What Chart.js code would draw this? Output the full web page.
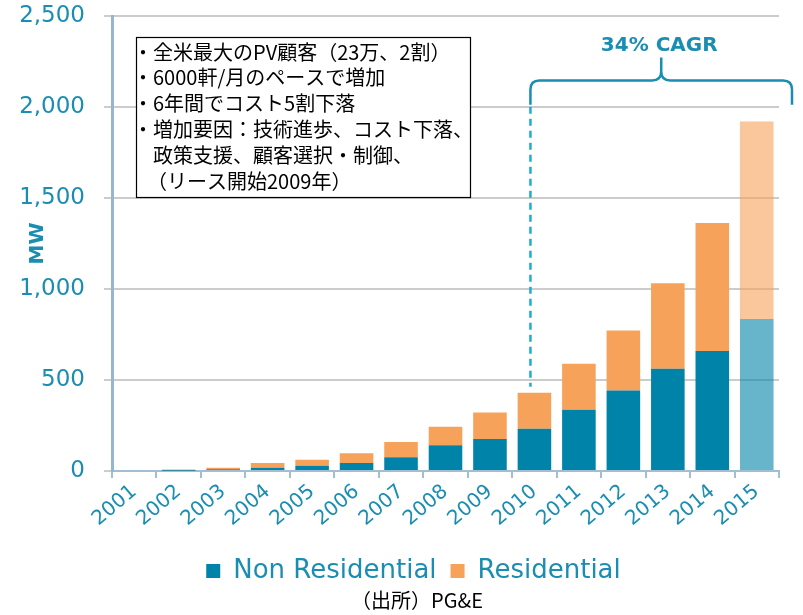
<!DOCTYPE html>
<html>
<head>
<meta charset="utf-8">
<script src="https://cdn.jsdelivr.net/npm/chart.js@4"></script>
<style>
  html, body { margin: 0; padding: 0; background: #fff; }
  #wrap { width: 803px; height: 615px; }
</style>
</head>
<body>
<div id="wrap"><canvas id="pvChart" width="803" height="615"></canvas></div>
<script>
const years = ["2001","2002","2003","2004","2005","2006","2007","2008","2009","2010","2011","2012","2013","2014","2015"];
const nonResidential = [0, 2, 9, 18, 29, 44, 75, 142, 176, 232, 337, 442, 562, 660, 835];
const residential    = [0, 6, 9, 26, 33, 54, 85, 101, 146, 198, 252, 330, 470, 702, 1085];
const yTicks = [0, 500, 1000, 1500, 2000, 2500];
const noteLines = [
  "・全米最大のPV顧客（23万、2割）",
  "・6000軒/月のペースで増加",
  "・6年間でコスト5割下落",
  "・増加要因：技術進歩、コスト下落、",
  "政策支援、顧客選択・制御、",
  "（リース開始2009年）"
];
const cagrLabel = "34% CAGR";
const sourceLabel = "（出所）PG&E";

const TEAL = "#1A8DB3";
const NONRES = "0,131,169";
const RES = "247,162,90";

// last year is a forecast -> faded bars
const fade = rgb => years.map((y, i) => i === years.length - 1 ? `rgba(${rgb},0.6)` : `rgb(${rgb})`);

const notes = {
  id: "notes",
  beforeDraw(chart) {
    // nudge legend to sit a bit right of canvas centre like the original
    if (!chart.$legendShifted) {
      chart.legend.left += 24;
      chart.legend.right += 24;
      chart.$legendShifted = true;
    }
  },
  afterLayout(chart) { chart.$legendShifted = false; },
  afterDraw(chart) {
    const { ctx, chartArea: ca, scales: { x, y } } = chart;
    ctx.save();

    // text box
    const bx = ca.left + 24, by = 37, bw = 334, bh = 160;
    ctx.fillStyle = "#fff";
    ctx.fillRect(bx, by, bw, bh);
    ctx.strokeStyle = "#000";
    ctx.lineWidth = 1.2;
    ctx.strokeRect(bx + 0.5, by + 0.5, bw, bh);
    ctx.fillStyle = "#000";
    ctx.font = '20px "Noto Sans CJK JP"';
    ctx.textBaseline = "middle";
    ctx.textAlign = "left";
    noteLines.forEach((t, i) => {
      const indent = t.startsWith("・") ? -3 : t.startsWith("（") ? 11 : 17;
      ctx.fillText(t, bx + indent, by + 15 + i * 25.8);
    });

    // CAGR bracket
    const x0 = x.getPixelForValue(9) - 4;
    const x1 = ca.right + 13;
    const xm = (x0 + x1) / 2;
    const yEnd = y.getPixelForValue(2013);
    const yBar = y.getPixelForValue(2145);
    const yPeak = y.getPixelForValue(2272);
    const r = 9;
    ctx.strokeStyle = TEAL;
    ctx.lineWidth = 2.5;
    ctx.beginPath();
    ctx.moveTo(x0, yEnd);
    ctx.lineTo(x0, yBar + r);
    ctx.quadraticCurveTo(x0, yBar, x0 + r, yBar);
    ctx.lineTo(xm - r, yBar);
    ctx.quadraticCurveTo(xm, yBar, xm, yBar - r);
    ctx.lineTo(xm, yPeak);
    ctx.moveTo(xm, yBar - r);
    ctx.quadraticCurveTo(xm, yBar, xm + r, yBar);
    ctx.lineTo(x1 - r, yBar);
    ctx.quadraticCurveTo(x1, yBar, x1, yBar + r);
    ctx.lineTo(x1, yEnd);
    ctx.stroke();

    ctx.fillStyle = TEAL;
    ctx.font = 'bold 20px "DejaVu Sans"';
    ctx.textAlign = "center";
    ctx.fillText(cagrLabel, xm - 2, y.getPixelForValue(2338));

    // dashed guide down to 2010
    ctx.strokeStyle = "#1AAFD0";
    ctx.setLineDash([7, 5]);
    ctx.beginPath();
    ctx.moveTo(x0, yEnd + 2);
    ctx.lineTo(x0, y.getPixelForValue(nonResidential[9] + residential[9]) - 6);
    ctx.stroke();
    ctx.setLineDash([]);

    // source
    ctx.fillStyle = "#000";
    ctx.font = '20px "Noto Sans CJK JP"';
    ctx.fillText(sourceLabel, 417, 600);
    ctx.restore();
  }
};

new Chart(document.getElementById("pvChart").getContext("2d"), {
  type: "bar",
  data: {
    labels: years,
    datasets: [
      { label: "Non Residential", data: nonResidential, backgroundColor: fade(NONRES) },
      { label: "Residential", data: residential, backgroundColor: fade(RES) }
    ]
  },
  options: {
    responsive: false,
    animation: false,
    layout: { padding: { top: 16, right: 24, bottom: 21, left: 0 } },
    datasets: { bar: { categoryPercentage: 1, barPercentage: 0.755 } },
    plugins: {
      tooltip: { enabled: false },
      legend: {
        position: "bottom",
        labels: {
          color: TEAL,
          font: { family: "DejaVu Sans", size: 26 },
          boxWidth: 14, boxHeight: 14, padding: 14
        }
      }
    },
    scales: {
      x: {
        stacked: true,
        afterFit: s => { s.height = 73; },
        grid: { drawOnChartArea: false, tickLength: 7, color: "#A3BED3", lineWidth: 2 },
        border: { color: "#A3BED3", width: 2 },
        ticks: {
          color: TEAL, font: { family: "DejaVu Sans", size: 20 },
          minRotation: 40, maxRotation: 40, padding: 2, autoSkip: false
        }
      },
      y: {
        stacked: true,
        min: yTicks[0], max: yTicks[yTicks.length - 1],
        afterFit: s => { s.width = 112; s.paddingTop = 0; s.paddingBottom = 0; },
        afterBuildTicks: s => { s.ticks = yTicks.map(v => ({ value: v })); },
        grid: { color: "#CCCCCC", lineWidth: 2, tickLength: 8 },
        border: { color: "#95B6CF", width: 3 },
        ticks: {
          color: TEAL, font: { family: "DejaVu Sans", size: 23 }, padding: 19,
          callback: v => v.toLocaleString("en-US")
        },
        title: {
          display: true, text: "MW", color: TEAL,
          font: { family: "DejaVu Sans", size: 20, weight: "bold" },
          padding: { top: 26, bottom: 0 }
        }
      }
    }
  },
  plugins: [notes]
});
</script>
</body>
</html>
